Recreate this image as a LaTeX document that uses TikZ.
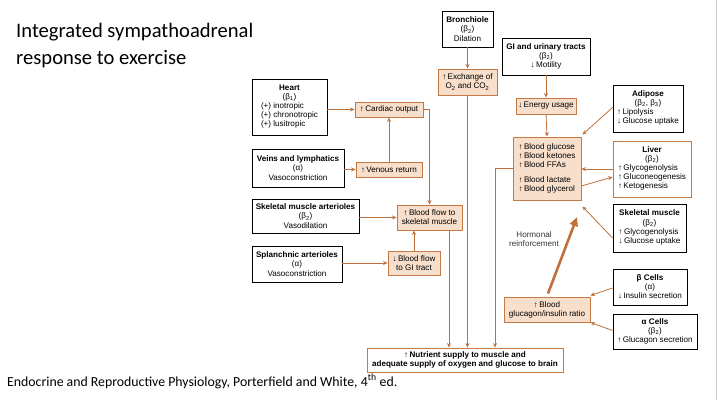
\documentclass[tikz,border=0pt]{standalone}
\usepackage{fontspec}
\setmainfont{Liberation Sans}
\newfontfamily\titlefont{Carlito}
\usetikzlibrary{arrows.meta,calc}
\definecolor{arr}{HTML}{C0703A}
\definecolor{ofill}{HTML}{F8DFCB}
\definecolor{oline}{HTML}{C47A45}
\tikzset{
  base/.style={inner sep=0pt, align=center, font=\fontsize{8.1}{9.1}\selectfont},
  bbox/.style={base, draw=black, line width=0.9pt, fill=white},
  obox/.style={base, draw=oline, line width=0.9pt, fill=ofill},
  lbox/.style={base, draw=oline, line width=0.9pt, fill=white},
  conn/.style={draw=arr, line width=0.8pt, -{Stealth[length=4.5pt,width=4pt]}},
  thick arrow/.style={draw=arr, line width=2.6pt, -{Triangle[length=9pt,width=8pt]}},
  sz/.style 2 args={minimum width=#1, minimum height=#2},
}
\newcommand{\up}{↑\,}
\newcommand{\dn}{↓\,}
\newcommand{\sub}[1]{\textsubscript{#1}}
\begin{document}
\begin{tikzpicture}[x=1pt,y=-1pt]
\useasboundingbox[fill=white] (0,0) rectangle (717,400);
\draw[gray!40, line width=0.8pt] (716,0) -- (716,400);

% title
\node[anchor=north west, inner sep=0pt, align=left, font=\titlefont\fontsize{20.6}{27}\selectfont] (title) at (16,23)
  {Integrated sympathoadrenal\\response to exercise};

% left column
\node[bbox, sz={75}{56}] (heart) at (289.5,107)
  {\textbf{Heart}\\(β\sub{1})\\\begin{tabular}{@{}l@{}}(+) inotropic\\(+) chronotropic\\(+) lusitropic\end{tabular}};
\node[bbox, sz={92}{38}] (veins) at (298,168)
  {\textbf{Veins and lymphatics}\\(α)\\Vasoconstriction};
\node[bbox, sz={107}{34}] (skart) at (305.5,216)
  {\textbf{Skeletal muscle arterioles}\\(β\sub{2})\\Vasodilation};
\node[bbox, sz={90}{36}] (splan) at (297,264)
  {\textbf{Splanchnic arterioles}\\(α)\\Vasoconstriction};

% middle orange boxes
\node[obox, sz={68}{15}] (cardiac) at (389,109.5) {\up Cardiac output};
\node[obox, sz={66}{15}] (venous) at (389,169.5) {\up Venous return};
\node[obox, sz={65}{25}] (bfsk) at (429.5,217.5) {\up Blood flow to\\skeletal muscle};
\node[obox, sz={52}{24}] (bfgi) at (414,263) {\dn Blood flow\\to GI tract};

% top
\node[bbox, sz={51}{36}] (bronch) at (467.5,29) {\textbf{Bronchiole}\\(β\sub{2})\\Dilation};
\node[obox, sz={59}{26}] (exch) at (467.5,82) {\up Exchange of\\O\sub{2} and CO\sub{2}};
\node[bbox, sz={88}{37}] (gi) at (546,56.5) {\textbf{GI and urinary tracts}\\(β\sub{2})\\\dn Motility};
\node[obox, sz={60}{16}] (energy) at (546,106) {\dn Energy usage};

\node[obox, sz={68}{63}] (blood) at (547,168.5)
  {\begin{tabular}{@{}l@{}}\up Blood glucose\\\up Blood ketones\\\up Blood FFAs\\[6pt]\up Blood lactate\\\up Blood glycerol\end{tabular}};

% right column
\node[bbox, sz={70}{47}] (adipose) at (648,108.5)
  {\textbf{Adipose}\\(β\sub{2}, β\sub{3})\\\begin{tabular}{@{}l@{}}\up Lipolysis\\\dn Glucose uptake\end{tabular}};
\node[lbox, sz={78}{56}] (liver) at (652,169)
  {\textbf{Liver}\\(β\sub{2})\\\begin{tabular}{@{}l@{}}\up Glycogenolysis\\\up Gluconeogenesis\\\up Ketogenesis\end{tabular}};
\node[bbox, sz={73}{48}] (skm) at (649.5,228)
  {\textbf{Skeletal muscle}\\(β\sub{2})\\\begin{tabular}{@{}l@{}}\up Glycogenolysis\\\dn Glucose uptake\end{tabular}};
\node[bbox, sz={74}{36}] (beta) at (650,287) {\textbf{β Cells}\\(α)\\\dn Insulin secretion};
\node[bbox, sz={84}{35}] (alpha) at (655,331.5) {\textbf{α Cells}\\(β\sub{2})\\\up Glucagon secretion};

\node[obox, sz={86}{25}] (gluc) at (547,309.5) {\up Blood\\glucagon/insulin ratio};
\node[base, text=black!80] (horm) at (534,239) {Hormonal\\reinforcement};

\node[obox, fill=white, sz={196}{24}] (nutr) at (465,360)
  {\textbf{\up Nutrient supply to muscle and}\\\textbf{adequate supply of oxygen and glucose to brain}};

% footer
\node[anchor=base west, inner sep=0pt, font=\titlefont\fontsize{13.8}{15}\selectfont] (footer) at (7,386)
  {Endocrine and Reproductive Physiology, Porterfield and White, 4\textsuperscript{th} ed.};

% connectors
\draw[conn] (heart.east |- cardiac.west) -- (cardiac.west);
\draw[conn] (veins.east |- venous.west) -- (venous.west);
\draw[conn] (skart.east |- bfsk.west) -- (bfsk.west);
\draw[conn] (splan.east |- bfgi.west) -- (bfgi.west);
\draw[conn] (venous.north) -- (cardiac.south);
\draw[conn] (cardiac.east) -| (bfsk.north);
\draw[conn] (bfgi.north) -- (bfgi.north |- bfsk.south);
\coordinate (bfskout) at ($(bfsk.south)+(19.5,0)$);
\draw[conn] (bfskout) -- (bfskout |- nutr.north);
\draw[conn] (bronch.south) -- (exch.north);
\draw[conn] (exch.south) -- (exch.south |- nutr.north);
\draw[conn] (gi.south) -- (energy.north);
\draw[conn] (energy.south) -- (blood.north);
\coordinate (bloodin) at ($(nutr.north)+(30,0)$);
\draw[conn] (blood.west) -| (bloodin);
\draw[conn] ($(adipose.west)+(0,-1)$) -- ($(blood.north east)+(1,-2)$);
\draw[conn] (liver.west) -- (liver.west -| blood.east);
\draw[conn] ($(blood.east)+(0,17.5)$) -- ($(liver.west)+(0,8)$);
\draw[conn] ($(skm.west)+(0,10)$) -- ($(blood.south east)+(1,6)$);
\draw[conn] ($(beta.west)+(0,1)$) -- ($(gluc.north east)+(0,-1)$);
\draw[conn] ($(alpha.west)+(0,-1)$) -- (gluc.south east);
\coordinate (thtip) at (577,217);
\draw[thick arrow] ($(gluc.north)+(1,-3)$) -- (thtip);
\end{tikzpicture}
\end{document}
